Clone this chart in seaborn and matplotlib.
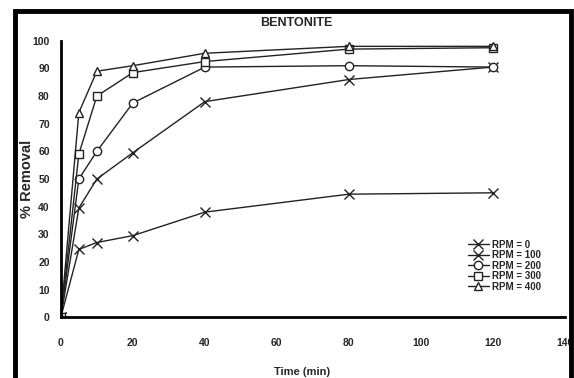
import pandas as pd
import seaborn as sns
import matplotlib.pyplot as plt
from matplotlib.patches import Rectangle

# 読み取った値
time_min = [0, 5, 10, 20, 40, 80, 120]
rpm_0 = [0, 24.5, 27, 29.5, 38, 44.5, 45]
rpm_100 = [0, 39.5, 50, 59.5, 78, 86, 90.5]
rpm_200 = [0, 50, 60, 77.5, 90.5, 91, 90.5]
rpm_300 = [0, 59, 80, 88.5, 92.5, 97, 97.5]
rpm_400 = [0, 74, 89, 91, 95.5, 98, 98]
series_labels = ['RPM = 0', 'RPM = 100', 'RPM = 200', 'RPM = 300', 'RPM = 400']
series_markers = ['x', 'x', 'o', 's', '^']
x_ticks = [0, 20, 40, 60, 80, 100, 120, 140]
y_ticks = [0, 10, 20, 30, 40, 50, 60, 70, 80, 90, 100]

sns.set_style('white')
plt.rcParams['font.family'] = ['Liberation Sans', 'DejaVu Sans']

fig = plt.figure(figsize=(5.74, 3.78), dpi=100)
ax = fig.add_axes([0.106, 0.161, 0.878, 0.731])

for label, vals, mk in zip(series_labels, [rpm_0, rpm_100, rpm_200, rpm_300, rpm_400], series_markers):
    df = pd.DataFrame({'Time': time_min, 'Removal': vals})
    sns.lineplot(data=df, x='Time', y='Removal', ax=ax, label=label, color='#222222',
                 marker=mk, linewidth=1.0, markersize=7 if mk == 'x' else 6,
                 markerfacecolor='white', markeredgecolor='#222222', markeredgewidth=1.0)

ax.set_xlim(0, 140)
ax.set_ylim(0, 100)
ax.set_xticks(x_ticks)
ax.set_yticks(y_ticks)
ax.tick_params(axis='both', direction='out', length=3, width=1.2, labelsize=7.5, pad=5)
ax.tick_params(axis='x', pad=12)
for lab in ax.get_xticklabels() + ax.get_yticklabels():
    lab.set_fontweight('bold')
for side in ['top', 'right']:
    ax.spines[side].set_visible(False)
for side in ['left', 'bottom']:
    ax.spines[side].set_linewidth(2.0)
    ax.spines[side].set_color('black')

ax.set_xlabel('Time (min)', fontsize=8, fontweight='bold')
ax.set_ylabel('% Removal', fontsize=10.5, fontweight='bold')
ax.xaxis.set_label_coords(0.478, -0.18)
ax.yaxis.set_label_coords(-0.054, 0.5)
ax.set_title('BENTONITE', fontsize=9, fontweight='bold', x=0.468, pad=11)

leg = ax.legend(loc='lower right', bbox_to_anchor=(0.97, 0.06), frameon=False,
                labelspacing=0.05, handlelength=2.2, handletextpad=0.3,
                prop={'weight': 'bold', 'size': 7})

# 外枠
fig.patches.append(Rectangle((0.027, -0.1), 0.967, 1.07, transform=fig.transFigure,
                             fill=False, edgecolor='black', linewidth=3.5, clip_on=False))

plt.savefig('out.png', dpi=100)
plt.close()
